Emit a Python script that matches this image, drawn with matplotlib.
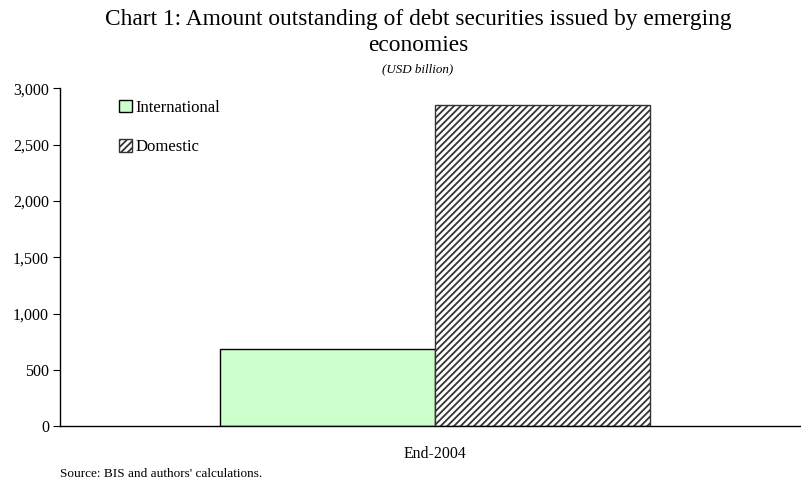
import matplotlib
matplotlib.use("Agg")
import matplotlib.pyplot as plt
import numpy as np
from matplotlib.ticker import FuncFormatter

categories = ["End-2004"]
series_names = ["International", "Domestic"]
international = [690]
domestic = [2850]
yticks = [0, 500, 1000, 1500, 2000, 2500, 3000]

plt.rcParams['font.family'] = ['Liberation Serif', 'DejaVu Serif']
plt.rcParams['hatch.linewidth'] = 1.3
plt.rcParams['hatch.color'] = '#333333'

fig = plt.figure(figsize=(8.01, 4.88), dpi=100)
ax = fig.add_axes([60/801, 1-426.3/488, 740/801, (426.3-88.3)/488])

x = np.arange(len(categories))
w = 215/740
ax.bar(x - w/2, international, width=w, color='#ccffcc', edgecolor='black', linewidth=1.0, label=series_names[0])
ax.bar(x + w/2, domestic, width=w, color='white', edgecolor='#333333', hatch='/////', linewidth=1.0, label=series_names[1])

ax.set_xlim(-375/740, 365/740)
ax.set_ylim(0, 3000)
ax.set_yticks(yticks)
ax.yaxis.set_major_formatter(FuncFormatter(lambda v, p: f"{int(v):,}"))
ax.set_xticks(x)
ax.set_xticklabels(categories, fontsize=11.4)
ax.tick_params(axis='x', length=0, pad=14)
ax.tick_params(axis='y', length=5, direction='out', labelsize=11.5, pad=3)
for s in ['top', 'right']:
    ax.spines[s].set_visible(False)
for s in ['left', 'bottom']:
    ax.spines[s].set_linewidth(1.0)

leg = ax.legend(loc='upper left', bbox_to_anchor=(0.071, 0.985), frameon=False,
                fontsize=12, handlelength=0.75, handleheight=0.75,
                handletextpad=0.2, labelspacing=1.4, borderaxespad=0)

fig.text(0.522, 1-19/488, "Chart 1: Amount outstanding of debt securities issued by emerging",
         ha='center', va='center', fontsize=16.8)
fig.text(0.522, 1-46/488, "economies", ha='center', va='center', fontsize=16.8)
fig.text(0.522, 1-69/488, "(USD billion)", ha='center', va='center', fontsize=9.4, style='italic')
fig.text(60/801, 1-474/488, "Source: BIS and authors' calculations.", ha='left', va='center', fontsize=9.5)

fig.savefig("out.png", dpi=100)
